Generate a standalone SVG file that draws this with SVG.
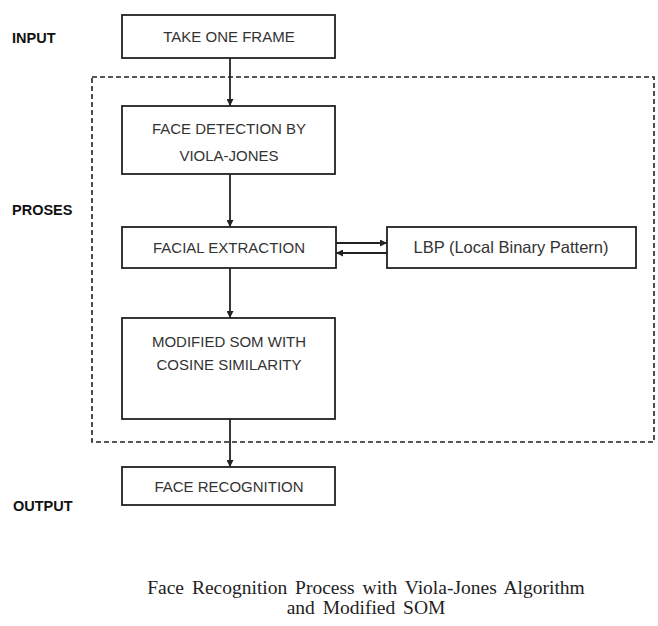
<svg xmlns="http://www.w3.org/2000/svg" width="658" height="626" viewBox="0 0 658 626">
<style>
.box{fill:#fff;stroke:#222;stroke-width:1.8}
.t{font-family:"Liberation Sans",Arial,sans-serif;font-size:15px;fill:#333;text-anchor:middle}
.lbl{font-family:"Liberation Sans",Arial,sans-serif;font-size:14.5px;font-weight:bold;fill:#111}
.cap{font-family:"Liberation Serif","Times New Roman",serif;font-size:19.5px;fill:#222;text-anchor:middle;word-spacing:3px}
.c{stroke:#222;stroke-width:1.8;fill:none}
</style>
<defs>
<marker id="ah" viewBox="0 0 10 10" refX="10" refY="5" markerWidth="7" markerHeight="7" markerUnits="userSpaceOnUse" orient="auto">
<path d="M0,0 L10,5 L0,10 z" fill="#222"/>
</marker>
</defs>
<rect width="658" height="626" fill="#fff"/>
<g id="labels">
<text class="lbl" x="12" y="43">INPUT</text>
<text class="lbl" x="12" y="215">PROSES</text>
<text class="lbl" x="13" y="511">OUTPUT</text>
</g>
<g id="proses-region">
<rect x="92" y="77" width="562" height="365" fill="none" stroke="#222" stroke-width="1.6" stroke-dasharray="5,3"/>
</g>
<g id="connectors">
<line class="c" x1="230" y1="58" x2="230" y2="106" marker-end="url(#ah)"/>
<line class="c" x1="230" y1="174" x2="230" y2="227" marker-end="url(#ah)"/>
<line class="c" x1="230" y1="268" x2="230" y2="318" marker-end="url(#ah)"/>
<line class="c" x1="230" y1="419" x2="230" y2="467" marker-end="url(#ah)"/>
<line class="c" x1="336" y1="243" x2="387" y2="243" marker-end="url(#ah)"/>
<line class="c" x1="387" y1="253" x2="336" y2="253" marker-end="url(#ah)"/>
</g>
<g id="take-one-frame">
<rect class="box" x="122" y="15" width="213" height="43"/>
<text class="t" x="229" y="42">TAKE ONE FRAME</text>
</g>
<g id="face-detection">
<rect class="box" x="122" y="106" width="213" height="68"/>
<text class="t" x="229" y="134">FACE DETECTION  BY</text>
<text class="t" x="229" y="161">VIOLA-JONES</text>
</g>
<g id="facial-extraction">
<rect class="box" x="122" y="227" width="214" height="41"/>
<text class="t" x="229" y="253">FACIAL EXTRACTION</text>
</g>
<g id="lbp">
<rect class="box" x="387" y="227" width="249" height="41"/>
<text class="t" x="511" y="253" style="font-size:16.5px">LBP (Local Binary Pattern)</text>
</g>
<g id="modified-som">
<rect class="box" x="122" y="318" width="213" height="101"/>
<text class="t" x="229" y="347">MODIFIED SOM WITH</text>
<text class="t" x="229" y="370">COSINE SIMILARITY</text>
</g>
<g id="face-recognition">
<rect class="box" x="122" y="467" width="213" height="38"/>
<text class="t" x="229" y="492">FACE RECOGNITION</text>
</g>
<g id="caption">
<text class="cap" x="366" y="594">Face Recognition Process with Viola-Jones Algorithm</text>
<text class="cap" x="366" y="614">and Modified SOM</text>
</g>
</svg>
